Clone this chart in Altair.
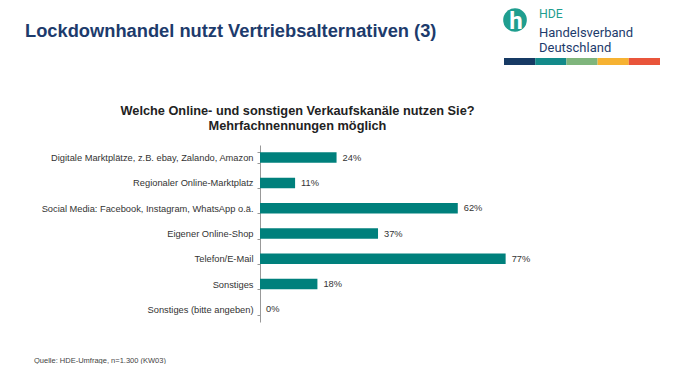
import altair as alt
import pandas as pd

categories = [
    "Digitale Marktplätze, z.B. ebay, Zalando, Amazon",
    "Regionaler Online-Marktplatz",
    "Social Media: Facebook, Instagram, WhatsApp o.ä.",
    "Eigener Online-Shop",
    "Telefon/E-Mail",
    "Sonstiges",
    "Sonstiges (bitte angeben)",
]
values = [24, 11, 62, 37, 77, 18, 0]

title_text = "Lockdownhandel nutzt Vertriebsalternativen (3)"
subtitle_lines = ["Welche Online- und sonstigen Verkaufskanäle nutzen Sie?", "Mehrfachnennungen möglich"]
source_text = "Quelle: HDE-Umfrage, n=1.300 (KW03)"
logo_lines = ["HDE", "Handelsverband", "Deutschland"]
stripe_colors = ["#173a64", "#138a8a", "#7fb57c", "#f6b232", "#e9553b"]

TEAL = "#00807c"
NAVY = "#1d3b6c"
FONT = "Liberation Sans"

df = pd.DataFrame({"cat": categories, "val": values})
df["label"] = df["val"].astype(str) + "%"

y_enc = alt.Y(
    "cat:N",
    sort=categories,
    scale=alt.Scale(paddingInner=0.585, paddingOuter=0.29),
    axis=alt.Axis(
        title=None,
        tickBand="extent",
        tickSize=3,
        tickColor="#999999",
        domainColor="#999999",
        labelFontSize=9.3,
        labelFont=FONT,
        labelColor="#333333",
        labelPadding=4,
        labelLimit=400,
        grid=False,
    ),
)
x_enc = alt.X("val:Q", scale=alt.Scale(domain=[0, 100]), axis=None)

base = alt.Chart(df)
bars = base.mark_bar(color=TEAL).encode(y=y_enc, x=x_enc)
vlabels = base.mark_text(
    align="left", baseline="middle", dx=6, fontSize=9.3, font=FONT, color="#333333"
).encode(y=y_enc, x=x_enc, text="label:N")


def txt(s, x, y, **kw):
    return alt.Chart(pd.DataFrame({"t": [s]})).mark_text(font=FONT, **kw).encode(
        x=alt.value(x), y=alt.value(y), text="t:N"
    )


layers = [bars, vlabels]
layers.append(txt(title_text, -235, -108, align="left", baseline="alphabetic",
                  fontSize=18.3, fontWeight="bold", color=NAVY))
layers.append(txt(subtitle_lines[0], 37.5, -30, align="center", baseline="alphabetic",
                  fontSize=12.75, fontWeight="bold", color="#222222"))
layers.append(txt(subtitle_lines[1], 37.5, -15.5, align="center", baseline="alphabetic",
                  fontSize=12.75, fontWeight="bold", color="#222222"))
layers.append(txt(source_text, -226, 217.5, align="left", baseline="alphabetic",
                  fontSize=7.5, color="#444444"))

# logo
logo = alt.Chart(pd.DataFrame({"t": ["h"]}))
layers.append(logo.mark_point(shape="circle", filled=True, opacity=1, size=560,
                              color="#1f9e8f").encode(x=alt.value(255), y=alt.value(-125)))
layers.append(logo.mark_text(font="Roboto", fontSize=24, fontWeight="bold", color="white",
                             align="center", baseline="alphabetic").encode(
    x=alt.value(256), y=alt.value(-116.5), text="t:N"))
layers.append(alt.Chart(pd.DataFrame({"t": [logo_lines[0]]})).mark_text(
    font="Roboto", fontSize=12.3, color="#1f9e8f", align="left", baseline="alphabetic"
).encode(x=alt.value(279), y=alt.value(-127.3), text="t:N"))
layers.append(alt.Chart(pd.DataFrame({"t": [logo_lines[1]]})).mark_text(
    font="Roboto", fontSize=13, color=NAVY, align="left", baseline="alphabetic"
).encode(x=alt.value(279), y=alt.value(-107.7), text="t:N"))
layers.append(alt.Chart(pd.DataFrame({"t": [logo_lines[2]]})).mark_text(
    font="Roboto", fontSize=13, color=NAVY, align="left", baseline="alphabetic"
).encode(x=alt.value(279), y=alt.value(-93.3), text="t:N"))

for i, c in enumerate(stripe_colors):
    x0 = 244 + i * 31.2
    layers.append(alt.Chart(pd.DataFrame({"t": [c]})).mark_rect(color=c).encode(
        x=alt.value(x0), x2=alt.value(x0 + 31.2), y=alt.value(-87), y2=alt.value(-80)))

chart = alt.layer(*layers).properties(
    width=319,
    height=177,
    padding={"left": 252, "top": 137, "right": 88, "bottom": 42},
    autosize=alt.AutoSizeParams(type="none"),
    background="white",
).configure_view(stroke=None)

chart.save("out.html", embed_options={"renderer": "svg", "actions": False})
